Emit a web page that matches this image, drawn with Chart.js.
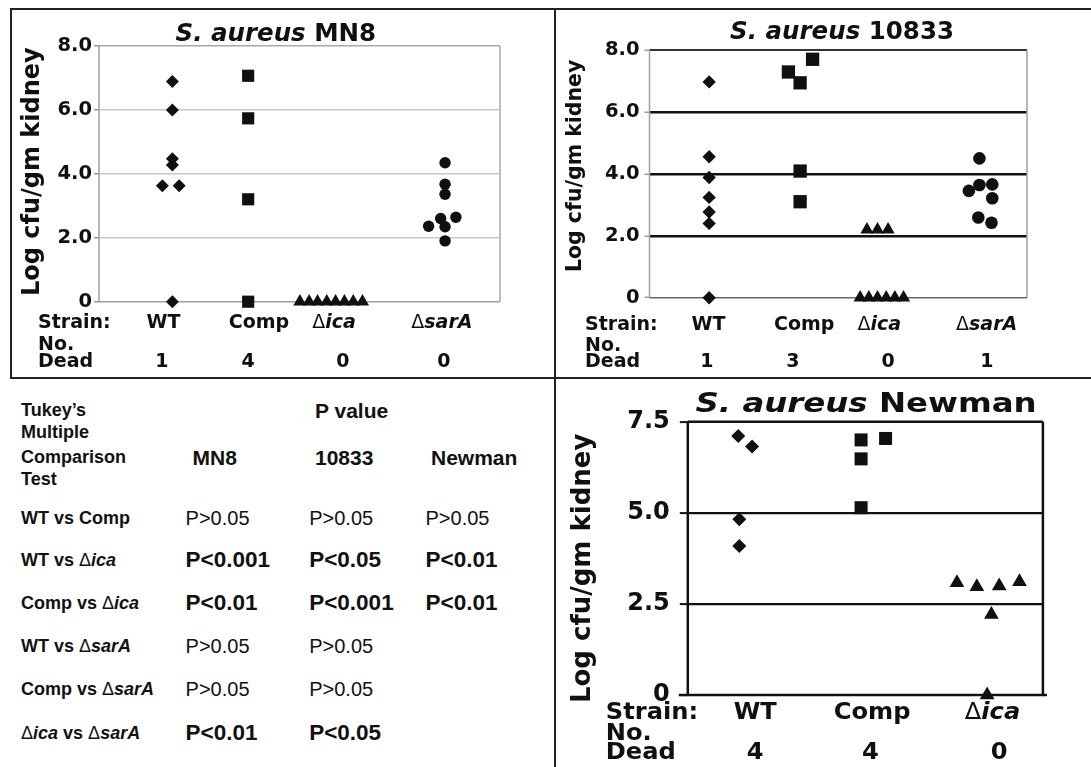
<!DOCTYPE html>
<html>
<head>
<meta charset="utf-8">
<script src="https://cdn.jsdelivr.net/npm/chart.js@4.4.0/dist/chart.umd.min.js"></script>
<style>
  html, body { margin: 0; padding: 0; background: #fff; }
  #page { position: relative; width: 1091px; height: 767px; overflow: hidden; color: #111;
          font-family: 'Liberation Sans', Arial, sans-serif; }
  canvas { position: absolute; }
  .rule { position: absolute; background: #222; }
  .t { position: absolute; white-space: nowrap; line-height: 1; transform: translateY(-50%); }
  .hd { font-weight: bold; font-size: 18px; }
  .col { font-weight: bold; font-size: 21px; }
  .row { font-weight: bold; font-size: 18px; }
  .row .d { font-weight: normal; }
  .row i { font-weight: bold; }
  .pv { font-size: 20px; }
  .pv.sig { font-weight: bold; font-size: 22.5px; }
</style>
</head>
<body>
<div id="page">
  <div class="rule" style="left:10px; top:8px; width:1081px; height:2px;"></div>
  <div class="rule" style="left:10px; top:8px; width:2px; height:371px;"></div>
  <div class="rule" style="left:554px; top:8px; width:2px; height:759px;"></div>
  <div class="rule" style="left:10px; top:377px; width:1081px; height:2px;"></div>

  <canvas id="mn8" width="541" height="366" style="left:12px; top:11px;"></canvas>
  <canvas id="c10833" width="534" height="366" style="left:557px; top:11px;"></canvas>
  <canvas id="newman" width="534" height="387" style="left:557px; top:380px;"></canvas>
  <div id="table"></div>
</div>
<script>
const FONT = "'DejaVu Sans', Verdana, sans-serif";
const INK = '#101010';

// x = position across the plot (0-100), y = log cfu/gm kidney

// S. aureus MN8
const mn8Groups = ['WT', 'Comp', 'Δica', 'ΔsarA'];
const mn8Dead = ['1', '4', '0', '0'];
const mn8Ticks = ['0', '2.0', '4.0', '6.0', '8.0'];
const mn8WtX = [18.3, 18.3, 18.3, 18.3, 15.8, 20.0, 18.3];
const mn8WtY = [6.88, 5.99, 4.47, 4.27, 3.62, 3.62, 0];
const mn8CompX = [37.2, 37.2, 37.2, 37.2];
const mn8CompY = [7.06, 5.73, 3.2, 0];
const mn8IcaX = [50.1, 52.4, 54.5, 56.8, 59.0, 61.2, 63.4, 65.7];
const mn8IcaY = [0, 0, 0, 0, 0, 0, 0, 0];
const mn8SarX = [86.3, 86.3, 86.3, 85.2, 89.0, 82.2, 86.3, 86.3];
const mn8SarY = [4.34, 3.67, 3.36, 2.6, 2.64, 2.36, 2.34, 1.9];

// S. aureus 10833
const s10833Groups = ['WT', 'Comp', 'Δica', 'ΔsarA'];
const s10833Dead = ['1', '3', '0', '1'];
const s10833Ticks = ['0', '2.0', '4.0', '6.0', '8.0'];
const s10833WtX = [15.8, 15.8, 15.8, 15.8, 15.8, 15.8, 15.8];
const s10833WtY = [6.97, 4.55, 3.88, 3.24, 2.77, 2.4, 0];
const s10833CompX = [43.2, 36.8, 39.9, 39.9, 39.9];
const s10833CompY = [7.7, 7.29, 6.94, 4.09, 3.1];
const s10833IcaX = [57.6, 60.4, 63.2, 55.8, 58.1, 60.4, 62.7, 65.0, 67.3];
const s10833IcaY = [2.2, 2.2, 2.2, 0, 0, 0, 0, 0, 0];
const s10833SarX = [87.4, 84.6, 87.4, 90.8, 90.8, 87.1, 90.6];
const s10833SarY = [4.5, 3.45, 3.64, 3.66, 3.21, 2.59, 2.42];

// S. aureus Newman
const newmanGroups = ['WT', 'Comp', 'Δica'];
const newmanDead = ['4', '4', '0'];
const newmanTicks = ['0', '2.5', '5.0', '7.5'];
const newmanWtX = [14.2, 18.1, 14.5, 14.5];
const newmanWtY = [7.11, 6.82, 4.82, 4.09];
const newmanCompX = [48.8, 48.8, 48.8, 55.7];
const newmanCompY = [7.0, 6.48, 5.14, 7.04];
const newmanIcaX = [75.8, 81.4, 87.7, 93.4, 85.5, 84.3];
const newmanIcaY = [3.08, 2.97, 2.99, 3.11, 2.21, 0];

// Tukey's multiple comparison table
const comparisons = ['WT vs Comp', 'WT vs Δica', 'Comp vs Δica', 'WT vs ΔsarA', 'Comp vs ΔsarA', 'Δica vs ΔsarA'];
const pMN8 = ['P>0.05', 'P<0.001', 'P<0.01', 'P>0.05', 'P>0.05', 'P<0.01'];
const p10833 = ['P>0.05', 'P<0.05', 'P<0.001', 'P>0.05', 'P>0.05', 'P<0.05'];
const pNewman = ['P>0.05', 'P<0.01', 'P<0.01', '', '', ''];

function pts(xs, ys) {
    return xs.map((x, i) => ({ x: x, y: ys[i] }));
}

function series(xs, ys, style, r) {
    return {
        data: pts(xs, ys),
        pointStyle: style,
        pointRadius: r,
        pointHoverRadius: r,
        backgroundColor: INK,
        borderWidth: 0,
        showLine: false,
        clip: false
    };
}

function groupParts(name, size) {
    if (name.startsWith('Δ')) {
        return [
            { t: 'Δ', f: `${size}px ${FONT}` },
            { t: name.slice(1), f: `italic bold ${size}px ${FONT}` }
        ];
    }
    return [{ t: name, f: `bold ${size}px ${FONT}` }];
}

// draws mixed-style text; sx stretches it horizontally
function drawRich(ctx, parts, x, y, align, sx) {
    sx = sx || 1;
    let w = 0;
    parts.forEach(p => { ctx.font = p.f; w += ctx.measureText(p.t).width; });
    const x0 = align === 'center' ? x - w * sx / 2 : (align === 'right' ? x - w * sx : x);
    ctx.save();
    ctx.translate(x0, y);
    ctx.scale(sx, 1);
    ctx.textAlign = 'left';
    ctx.textBaseline = 'middle';
    ctx.fillStyle = INK;
    let cx = 0;
    parts.forEach(p => {
        ctx.font = p.f;
        ctx.fillText(p.t, cx, 0);
        cx += ctx.measureText(p.t).width;
    });
    ctx.restore();
}

// frame, titles and the strain / no. dead rows
const decoPlugin = {
    id: 'deco',
    beforeDatasetsDraw(chart, args, o) {
        const a = chart.chartArea, ctx = chart.ctx;
        ctx.save();
        o.frame.forEach(f => {
            const e = f.ext || [0, 0];
            ctx.strokeStyle = f.color;
            ctx.lineWidth = f.width;
            ctx.beginPath();
            if (f.side === 'top') { ctx.moveTo(a.left - e[0], a.top); ctx.lineTo(a.right + e[1], a.top); }
            if (f.side === 'bottom') { ctx.moveTo(a.left - e[0], a.bottom); ctx.lineTo(a.right + e[1], a.bottom); }
            if (f.side === 'left') { ctx.moveTo(a.left, a.top - e[0]); ctx.lineTo(a.left, a.bottom + e[1]); }
            if (f.side === 'right') { ctx.moveTo(a.right, a.top - e[0]); ctx.lineTo(a.right, a.bottom + e[1]); }
            ctx.stroke();
        });
        ctx.restore();
    },
    afterDraw(chart, args, o) {
        const a = chart.chartArea, ctx = chart.ctx, x = chart.scales.x;
        drawRich(ctx, [
            { t: o.titleItalic, f: `italic bold ${o.titleSize}px ${FONT}` },
            { t: o.titleRest, f: `bold ${o.titleSize}px ${FONT}` }
        ], x.getPixelForValue(o.titleAt), a.top + o.titleDy, 'center', o.titleStretch);

        ctx.save();
        ctx.translate(a.left + o.yTitleDx, (a.top + a.bottom) / 2 + o.yTitleDy);
        ctx.rotate(-Math.PI / 2);
        drawRich(ctx, [{ t: 'Log cfu/gm kidney', f: `bold ${o.yTitleSize}px ${FONT}` }], 0, 0, 'center');
        ctx.restore();

        const bold = `bold ${o.rowSize}px ${FONT}`;
        const left = a.left + o.rowLeft;
        const sx = o.rowStretch;
        drawRich(ctx, [{ t: 'Strain:', f: bold }], left, a.bottom + o.rowDy[0], 'left', sx);
        drawRich(ctx, [{ t: 'No.', f: bold }], left, a.bottom + o.rowDy[1], 'left', sx);
        drawRich(ctx, [{ t: 'Dead', f: bold }], left, a.bottom + o.rowDy[2], 'left', sx);
        o.groups.forEach((g, i) => {
            drawRich(ctx, groupParts(g, o.rowSize), x.getPixelForValue(o.groupAt[i]), a.bottom + o.rowDy[0], 'center', sx);
        });
        o.dead.forEach((d, i) => {
            drawRich(ctx, [{ t: d, f: bold }], x.getPixelForValue(o.deadAt[i]), a.bottom + o.rowDy[2], 'center', sx);
        });
    }
};

function makeChart(id, datasets, ticks, yMax, step, deco, lay) {
    return new Chart(document.getElementById(id), {
        type: 'scatter',
        data: { datasets: datasets },
        options: {
            responsive: false,
            animation: false,
            events: [],
            layout: { padding: lay.pad, autoPadding: false },
            plugins: {
                legend: { display: false },
                tooltip: { enabled: false },
                deco: deco
            },
            scales: {
                x: { type: 'linear', min: 0, max: 100, display: false },
                y: {
                    min: 0,
                    max: yMax,
                    afterFit: s => { s.width = lay.axisW; },
                    ticks: {
                        stepSize: step,
                        callback: (v, i) => ticks[i],
                        font: { family: FONT, weight: 'bold', size: lay.tickSize },
                        color: INK,
                        padding: lay.tickPad
                    },
                    grid: {
                        color: c => (c.tick && (c.tick.value === 0 || c.tick.value === yMax)) ? 'rgba(0,0,0,0)' : lay.gridColor,
                        lineWidth: lay.gridWidth,
                        tickLength: lay.tickLength,
                        tickColor: lay.tickColor,
                        tickWidth: lay.tickWidth
                    },
                    border: { display: false }
                }
            }
        },
        plugins: [decoPlugin]
    });
}

makeChart('mn8', [
    series(mn8WtX, mn8WtY, 'rectRot', 6.5),
    series(mn8CompX, mn8CompY, 'rect', 8.6),
    series(mn8IcaX, mn8IcaY, 'triangle', 7.6),
    series(mn8SarX, mn8SarY, 'circle', 5.7)
], mn8Ticks, 8, 2, {
    titleItalic: 'S. aureus ', titleRest: 'MN8', titleSize: 24.5, titleAt: 44.1, titleDy: -11, titleStretch: 1,
    yTitleSize: 24, yTitleDx: -66, yTitleDy: -2,
    rowSize: 19, rowStretch: 1, rowLeft: -61, rowDy: [21.5, 43, 60],
    groups: mn8Groups, groupAt: [16.1, 39.9, 58.6, 85.5],
    dead: mn8Dead, deadAt: [15.7, 37.2, 60.8, 86],
    frame: [
        { side: 'top', color: '#a8a8a8', width: 1.5 },
        { side: 'right', color: '#a8a8a8', width: 1.5 },
        { side: 'bottom', color: '#a0a0a0', width: 1.5 },
        { side: 'left', color: '#a0a0a0', width: 1.5 }
    ]
}, {
    pad: { left: 0, top: 34.7, right: 53, bottom: 75.3 }, axisW: 87,
    tickSize: 19.5, tickPad: 2, tickLength: 5, tickColor: '#9a9a9a', tickWidth: 1.5,
    gridColor: '#c8c8c8', gridWidth: 1.5
});

makeChart('c10833', [
    series(s10833WtX, s10833WtY, 'rectRot', 6.7),
    series(s10833CompX, s10833CompY, 'rect', 9.4),
    series(s10833IcaX, s10833IcaY, 'triangle', 7.6),
    series(s10833SarX, s10833SarY, 'circle', 6.3)
], s10833Ticks, 8, 2, {
    titleItalic: 'S. aureus ', titleRest: '10833', titleSize: 24.5, titleAt: 51, titleDy: -17, titleStretch: 1,
    yTitleSize: 20.5, yTitleDx: -73.5, yTitleDy: -8,
    rowSize: 19, rowStretch: 1, rowLeft: -64.5, rowDy: [27.3, 48, 64],
    groups: s10833Groups, groupAt: [15.6, 41.0, 60.9, 89.3],
    dead: s10833Dead, deadAt: [15.2, 38.0, 63.2, 89.4],
    frame: [
        { side: 'top', color: '#333', width: 2 },
        { side: 'right', color: '#a0a0a0', width: 1.5 },
        { side: 'bottom', color: '#666', width: 1.5 },
        { side: 'left', color: '#a0a0a0', width: 1.5 }
    ]
}, {
    pad: { left: 0, top: 39, right: 64, bottom: 79.3 }, axisW: 92.5,
    tickSize: 19.5, tickPad: 5, tickLength: 5, tickColor: '#9a9a9a', tickWidth: 1.5,
    gridColor: '#111', gridWidth: 2.5
});

makeChart('newman', [
    series(newmanWtX, newmanWtY, 'rectRot', 7),
    series(newmanCompX, newmanCompY, 'rect', 9.2),
    series(newmanIcaX, newmanIcaY, 'triangle', 8.5)
], newmanTicks, 7.5, 2.5, {
    titleItalic: 'S. aureus ', titleRest: 'Newman', titleSize: 27, titleAt: 50.2, titleDy: -17, titleStretch: 1.2,
    yTitleSize: 26, yTitleDx: -105, yTitleDy: 10,
    rowSize: 23, rowStretch: 1.05, rowLeft: -82, rowDy: [18, 39, 58],
    groups: newmanGroups, groupAt: [19.0, 51.9, 85.8],
    dead: newmanDead, deadAt: [19.0, 51.4, 87.7],
    frame: [
        { side: 'top', color: '#111', width: 2.5 },
        { side: 'right', color: '#111', width: 2.5 },
        { side: 'bottom', color: '#111', width: 2.5, ext: [9, 4] },
        { side: 'left', color: '#111', width: 2.5 }
    ]
}, {
    pad: { left: 0, top: 41.7, right: 48.1, bottom: 72 }, axisW: 130.8,
    tickSize: 24, tickPad: 10, tickLength: 8, tickColor: '#111', tickWidth: 2,
    gridColor: '#111', gridWidth: 2.2
});

// table
function label(text) {
    return text.replace(/Δ(ica|sarA)/g, '<span class="d">Δ</span><i>$1</i>');
}

function cell(cls, html, x, y) {
    const d = document.createElement('div');
    d.className = 't ' + cls;
    d.style.left = x + 'px';
    d.style.top = y + 'px';
    d.innerHTML = html;
    document.getElementById('table').appendChild(d);
}

cell('hd', 'Tukey’s', 21, 410);
cell('hd', 'Multiple', 21, 431.5);
cell('hd', 'Comparison', 21, 457);
cell('hd', 'Test', 21, 479);
cell('col', 'P value', 315, 410);
cell('col', 'MN8', 192.5, 457);
cell('col', '10833', 315, 457);
cell('col', 'Newman', 431, 457);

const rowY = [517.7, 560, 602.7, 646, 689.3, 732.7];
comparisons.forEach((c, i) => {
    cell('row', label(c), 21, rowY[i]);
    [pMN8, p10833, pNewman].forEach((col, j) => {
        const v = col[i];
        if (!v) return;
        cell('pv' + (v.indexOf('<') >= 0 ? ' sig' : ''), v.replace('<', '&lt;').replace('>', '&gt;'), [185.6, 309.2, 425.5][j], rowY[i]);
    });
});
</script>
</body>
</html>
